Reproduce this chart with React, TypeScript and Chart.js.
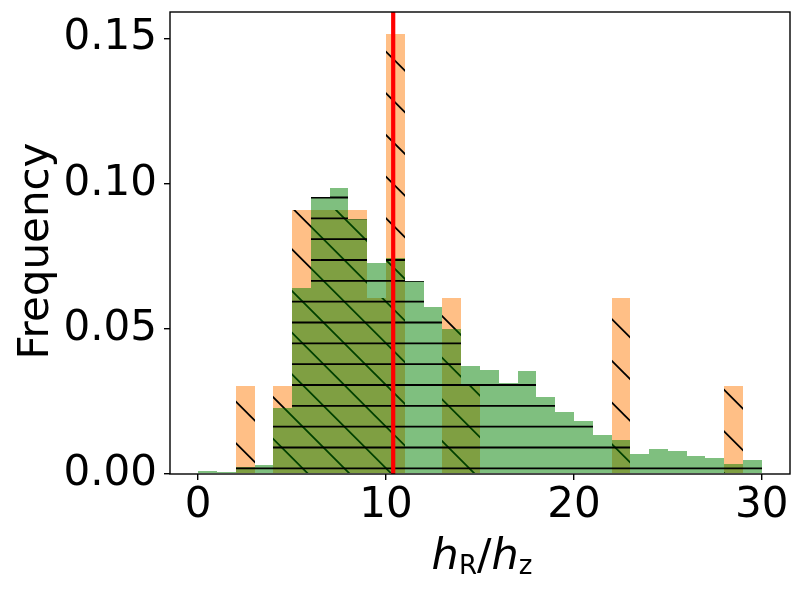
import { useEffect, useRef } from "react";
import { Chart, registerables } from "chart.js";

Chart.register(...registerables);

// histogram bins (width 1), given by their centres
const binCenters = [
  0.5, 1.5, 2.5, 3.5, 4.5, 5.5, 6.5, 7.5, 8.5, 9.5,
  10.5, 11.5, 12.5, 13.5, 14.5, 15.5, 16.5, 17.5, 18.5, 19.5,
  20.5, 21.5, 22.5, 23.5, 24.5, 25.5, 26.5, 27.5, 28.5, 29.5,
];
// green histogram (horizontal hatch)
const greenFreq = [
  0.001, 0.0007, 0.0024, 0.0031, 0.0229, 0.0639, 0.0953, 0.0985, 0.0878, 0.0726,
  0.0745, 0.0665, 0.0574, 0.0501, 0.0373, 0.0359, 0.0313, 0.0356, 0.0266, 0.0214,
  0.0183, 0.0135, 0.0118, 0.0069, 0.0086, 0.008, 0.0062, 0.0055, 0.0035, 0.0048,
];
// orange histogram (diagonal hatch)
const orangeFreq = [
  0, 0, 0.0303, 0, 0.0303, 0.0909, 0.0909, 0.0909, 0.0909, 0.0606,
  0.1515, 0, 0, 0.0606, 0.0303, 0, 0, 0, 0, 0,
  0, 0, 0.0606, 0, 0, 0, 0, 0, 0.0303, 0,
];
const refLineX = 10.38;
const xTicks = [0, 10, 20, 30];
const yTicks = [0, 0.05, 0.1, 0.15];
const xMin = -1.5;
const xMax = 31.5;
const yMax = 0.1591;

const FONT = "DejaVu Sans";

// matplotlib-like hatch tile, anchored to the canvas origin
function makeHatch(ctx: CanvasRenderingContext2D, fill: string, kind: "diag" | "horiz") {
  const size = 125;
  const tile = document.createElement("canvas");
  tile.width = size;
  tile.height = size;
  const g = tile.getContext("2d")!;
  g.fillStyle = fill;
  g.fillRect(0, 0, size, size);
  g.strokeStyle = "#000";
  g.lineWidth = 1.8;
  g.beginPath();
  if (kind === "diag") {
    const step = size / 3;
    for (let k = -4; k <= 4; k++) {
      const c = 1 + k * step;
      g.moveTo(c - 10, -10);
      g.lineTo(c + size + 10, size + 10);
    }
  } else {
    const step = size / 6;
    for (let k = 0; k < 6; k++) {
      const y = 10 + k * step;
      g.moveTo(0, y);
      g.lineTo(size, y);
    }
  }
  g.stroke();
  return ctx.createPattern(tile, "repeat")!;
}

// snap bar edges to whole pixels so neighbouring bars leave no seams
const snapBars = {
  id: "snapBars",
  beforeDatasetsDraw(chart: any) {
    chart.data.datasets.forEach((_: any, i: number) => {
      const meta = chart.getDatasetMeta(i);
      if (meta.type !== "bar") return;
      meta.data.forEach((el: any) => {
        const l = Math.round(el.x - el.width / 2);
        const r = Math.round(el.x + el.width / 2);
        el.x = (l + r) / 2;
        el.width = r - l;
        el.y = Math.round(el.y);
        el.base = Math.round(el.base);
      });
    });
  },
};

const framePlugin = {
  id: "frame",
  afterDatasetsDraw(chart: any) {
    const { ctx, chartArea: a } = chart;
    ctx.save();
    ctx.strokeStyle = "#000";
    ctx.lineWidth = 1.4;
    ctx.strokeRect(a.left, a.top, a.right - a.left, a.bottom - a.top);
    ctx.restore();
  },
};

export default function App() {
  const chartRef = useRef<HTMLCanvasElement>(null);

  useEffect(() => {
    const canvas = chartRef.current;
    if (!canvas) return;
    const ctx = canvas.getContext("2d");
    if (!ctx) return;

    const orangeHatch = makeHatch(ctx, "rgba(255,127,14,0.5)", "diag");
    const greenHatch = makeHatch(ctx, "rgba(0,128,0,0.5)", "horiz");

    const barCommon = {
      grouped: false,
      barPercentage: 1,
      categoryPercentage: 1,
      borderWidth: 0,
      inflateAmount: 0,
    };

    const chart = new Chart(ctx, {
      type: "bar",
      data: {
        datasets: [
          {
            type: "line",
            data: [
              { x: refLineX, y: 0 },
              { x: refLineX, y: yMax },
            ],
            borderColor: "#ff0000",
            borderWidth: 4.2,
            pointRadius: 0,
            order: 0,
          } as any,
          {
            data: binCenters.map((x, i) => ({ x, y: greenFreq[i] })),
            backgroundColor: greenHatch,
            order: 1,
            ...barCommon,
          },
          {
            data: binCenters.map((x, i) => ({ x, y: orangeFreq[i] })),
            backgroundColor: orangeHatch,
            order: 2,
            ...barCommon,
          },
        ],
      },
      options: {
        responsive: false,
        animation: false,
        layout: { padding: { top: 12, right: 12, left: 0, bottom: 0 } },
        plugins: {
          legend: { display: false },
          tooltip: { enabled: false },
        },
        scales: {
          x: {
            type: "linear",
            min: xMin,
            max: xMax,
            offset: false,
            afterBuildTicks: (s: any) => {
              s.ticks = xTicks.map((value) => ({ value }));
            },
            afterFit: (s: any) => {
              s.height = 117;
              s.paddingLeft = 0;
              s.paddingRight = 0;
            },
            grid: {
              offset: false,
              drawOnChartArea: false,
              drawTicks: true,
              tickLength: 6,
              color: "#000",
              lineWidth: 1.4,
            },
            border: { display: false },
            ticks: {
              font: { family: FONT, size: 42 },
              color: "#000",
              padding: 1,
              maxRotation: 0,
              autoSkip: false,
              callback: (v: any) => String(v),
            },
          },
          y: {
            type: "linear",
            min: 0,
            max: yMax,
            afterBuildTicks: (s: any) => {
              s.ticks = yTicks.map((value) => ({ value }));
            },
            afterFit: (s: any) => {
              s.width = 170;
              s.paddingTop = 0;
              s.paddingBottom = 0;
            },
            grid: {
              drawOnChartArea: false,
              drawTicks: true,
              tickLength: 6,
              color: "#000",
              lineWidth: 1.4,
            },
            border: { display: false },
            ticks: {
              font: { family: FONT, size: 42 },
              color: "#000",
              padding: 7,
              autoSkip: false,
              callback: (v: any) => Number(v).toFixed(2),
            },
          },
        },
      },
      plugins: [snapBars, framePlugin],
    });

    return () => {
      chart.destroy();
    };
  }, []);

  const sub = { fontStyle: "normal", fontSize: "26px", position: "relative" as const, top: "5px" };

  return (
    <div
      style={{
        position: "fixed",
        left: 0,
        top: 0,
        width: 802,
        height: 591,
        background: "#fff",
        fontFamily: FONT,
        color: "#000",
      }}
    >
      <canvas ref={chartRef} width={802} height={591} style={{ display: "block" }}></canvas>

      {/* y axis title */}
      <div
        style={{
          position: "absolute",
          left: 34 - 150,
          top: 251 - 24,
          width: 300,
          height: 48,
          lineHeight: "48px",
          fontSize: 42,
          textAlign: "center",
          transform: "rotate(-90deg)",
          whiteSpace: "nowrap",
        }}
      >
        Frequency
      </div>

      {/* x axis title: h_R / h_z */}
      <div
        style={{
          position: "absolute",
          left: 172,
          width: 620,
          top: 530,
          height: 48,
          lineHeight: "48px",
          fontSize: 43,
          textAlign: "center",
          whiteSpace: "nowrap",
        }}
      >
        <span style={{ fontStyle: "italic" }}>h</span>
        <span style={sub}>R</span>
        <span>/</span>
        <span style={{ fontStyle: "italic" }}>h</span>
        <span style={sub}>z</span>
      </div>
    </div>
  );
}
